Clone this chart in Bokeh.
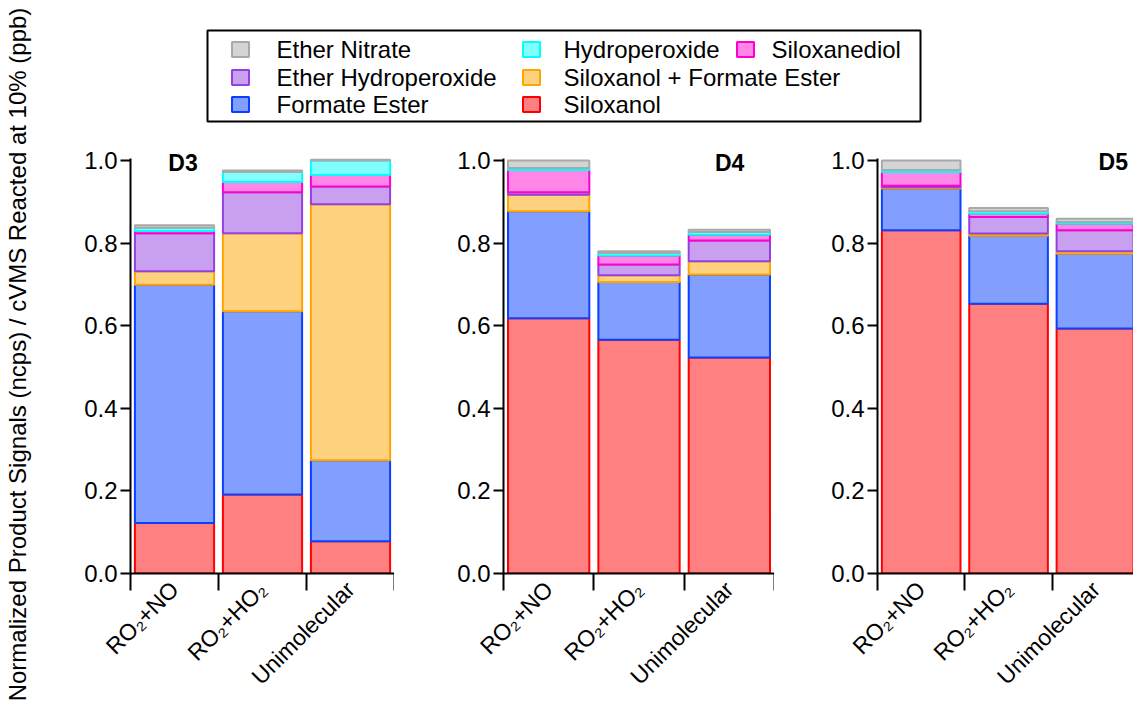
from math import pi
from bokeh.plotting import figure
from bokeh.layouts import row, column
from bokeh.models import Range1d, FixedTicker, Label
from bokeh.embed import file_html
from bokeh.resources import INLINE
from bokeh.core.properties import value

# ---------------- data ----------------
categories = ["RO₂+NO", "RO₂+HO₂", "Unimolecular"]
species = ["Siloxanol", "Formate Ester", "Siloxanol + Formate Ester",
           "Ether Hydroperoxide", "Siloxanediol", "Hydroperoxide", "Ether Nitrate"]
yticks = [0.0, 0.2, 0.4, 0.6, 0.8, 1.0]
ytick_labels = ["0.0", "0.2", "0.4", "0.6", "0.8", "1.0"]
panel_names = ["D3", "D4", "D5"]

# D3 (per category: RO2+NO, RO2+HO2, Unimolecular)
d3_siloxanol = [0.122, 0.191, 0.078]
d3_formate = [0.577, 0.444, 0.196]
d3_silox_formate = [0.033, 0.189, 0.620]
d3_ether_hp = [0.092, 0.099, 0.043]
d3_siloxanediol = [0.005, 0.025, 0.028]
d3_hp = [0.008, 0.024, 0.035]
d3_ether_nitrate = [0.006, 0.004, 0.002]

# D4
d4_siloxanol = [0.618, 0.566, 0.523]
d4_formate = [0.259, 0.140, 0.201]
d4_silox_formate = [0.040, 0.016, 0.032]
d4_ether_hp = [0.006, 0.026, 0.050]
d4_siloxanediol = [0.054, 0.022, 0.014]
d4_hp = [0.005, 0.006, 0.007]
d4_ether_nitrate = [0.018, 0.004, 0.005]

# D5
d5_siloxanol = [0.831, 0.653, 0.593]
d5_formate = [0.101, 0.165, 0.181]
d5_silox_formate = [0.003, 0.005, 0.006]
d5_ether_hp = [0.004, 0.040, 0.051]
d5_siloxanediol = [0.033, 0.008, 0.016]
d5_hp = [0.005, 0.006, 0.004]
d5_ether_nitrate = [0.023, 0.008, 0.008]

# ---------------- styles ----------------
FONT = "Liberation Sans"
line_colors = {
    "Siloxanol": "#FF0000",
    "Formate Ester": "#0A40FF",
    "Siloxanol + Formate Ester": "#FFA500",
    "Ether Hydroperoxide": "#9440E0",
    "Siloxanediol": "#FF00CC",
    "Hydroperoxide": "#00FFFF",
    "Ether Nitrate": "#A9A9A9",
}
fill_colors = {
    "Siloxanol": "#FF8080",
    "Formate Ester": "#829FFF",
    "Siloxanol + Formate Ester": "#FFD280",
    "Ether Hydroperoxide": "#C9A0F0",
    "Siloxanediol": "#FF85E6",
    "Hydroperoxide": "#80FFFF",
    "Ether Nitrate": "#D4D4D4",
}

panels_data = [
    [d3_siloxanol, d3_formate, d3_silox_formate, d3_ether_hp, d3_siloxanediol, d3_hp, d3_ether_nitrate],
    [d4_siloxanol, d4_formate, d4_silox_formate, d4_ether_hp, d4_siloxanediol, d4_hp, d4_ether_nitrate],
    [d5_siloxanol, d5_formate, d5_silox_formate, d5_ether_hp, d5_siloxanediol, d5_hp, d5_ether_nitrate],
]

# layout (pixels)
TITLE_W = 38
LEG_H = 148
ROW_H = 559
panel_widths = [356, 380, 359]
panel_borders = [92, 109, 103]
panel_xend = [3.0, 3.0, 2.93]
label_pos = [(0.43, 0.995), (2.34, 0.993), (2.53, 0.997)]
Y_END = 1.029

keys = ["s%d" % i for i in range(len(species))]
xpos = [i + 0.5 for i in range(len(categories))]

panels = []
for k, vals in enumerate(panels_data):
    p = figure(width=panel_widths[k], height=ROW_H,
               x_range=Range1d(0, panel_xend[k]), y_range=Range1d(0, Y_END),
               min_border_left=panel_borders[k], min_border_right=0,
               min_border_top=0, min_border_bottom=134,
               output_backend="svg", toolbar_location=None)
    data = {"x": xpos}
    for key, v in zip(keys, vals):
        data[key] = v
    p.vbar_stack(keys, x="x", width=0.9, source=data,
                 fill_color=[fill_colors[s] for s in species],
                 line_color=[line_colors[s] for s in species],
                 line_width=2)
    p.grid.visible = False
    p.outline_line_color = None
    p.background_fill_color = "white"
    p.border_fill_color = "white"

    # y axis
    ya = p.yaxis[0]
    ya.ticker = FixedTicker(ticks=yticks, minor_ticks=[])
    ya.bounds = (0, 1.005)
    ya.major_label_overrides = {t: l for t, l in zip(yticks, ytick_labels)}
    ya.major_tick_out = 10
    ya.major_tick_in = 0
    ya.major_tick_line_width = 2
    ya.axis_line_width = 2
    ya.major_label_standoff = 3
    ya.major_label_text_font = FONT
    ya.major_label_text_font_size = "24px"
    ya.major_label_text_color = "black"

    # x axis: boundary ticks (minor) and rotated category labels at centres
    xa = p.xaxis[0]
    xa.ticker = FixedTicker(ticks=xpos, minor_ticks=[0, 1, 2, 3])
    xa.major_label_overrides = {x: c for x, c in zip(xpos, categories)}
    xa.major_tick_out = 0
    xa.major_tick_in = 0
    xa.minor_tick_out = 17
    xa.minor_tick_in = 0
    xa.minor_tick_line_width = 2
    xa.minor_tick_line_color = "black"
    xa.axis_line_width = 2
    xa.major_label_orientation = pi / 4
    xa.major_label_standoff = -5
    xa.major_label_text_font = FONT
    xa.major_label_text_font_size = "23px"
    xa.major_label_text_color = "black"

    lx, ly = label_pos[k]
    p.add_layout(Label(x=lx, y=ly, text=panel_names[k], text_font=FONT,
                       text_font_style="bold", text_font_size="23px",
                       text_align="left", text_baseline="middle", text_color="black"))
    panels.append(p)

# ---------------- legend (manual, Igor-style tabbed layout) ----------------
LEG_W = sum(panel_widths)
leg = figure(width=LEG_W, height=LEG_H, x_range=Range1d(0, LEG_W), y_range=Range1d(LEG_H, 0),
             x_axis_type=None, y_axis_type=None, min_border=0,
             output_backend="svg", toolbar_location=None)
leg.grid.visible = False
leg.outline_line_color = None

legend_order = ["Ether Nitrate", "Ether Hydroperoxide", "Formate Ester",
                "Hydroperoxide", "Siloxanol + Formate Ester", "Siloxanol", "Siloxanediol"]
col_of = [0, 0, 0, 1, 1, 1, 2]
row_of = [0, 1, 2, 0, 1, 2, 0]
sw_x = [202, 493, 707]
tx_x = [238, 525, 733]
row_y = [49, 77, 104]

leg.quad(left=169, right=882, top=30, bottom=121, fill_color=None,
         line_color="black", line_width=2)
leg.rect(x=[sw_x[c] for c in col_of], y=[row_y[r] for r in row_of], width=17, height=15,
         fill_color=[fill_colors[s] for s in legend_order],
         line_color=[line_colors[s] for s in legend_order], line_width=2)
leg.text(x=[tx_x[c] for c in col_of], y=[row_y[r] for r in row_of], text=legend_order,
         text_font=value(FONT), text_font_size="24px", text_baseline="middle",
         text_align="left", text_color="black")

# ---------------- y title ----------------
TOTAL_H = LEG_H + ROW_H
tfig = figure(width=TITLE_W, height=TOTAL_H, x_range=Range1d(0, TITLE_W), y_range=Range1d(0, TOTAL_H),
              x_axis_type=None, y_axis_type=None, min_border=0,
              output_backend="svg", toolbar_location=None)
tfig.grid.visible = False
tfig.outline_line_color = None
tfig.text(x=[17], y=[TOTAL_H - 354], text=["Normalized Product Signals (ncps) / cVMS Reacted at 10% (ppb)"],
          angle=pi / 2, text_font=value(FONT), text_font_size="24px",
          text_align="center", text_baseline="middle", text_color="black")

layout = row(tfig, column(leg, row(*panels)))
open("out.html", "w").write(file_html(layout, INLINE))
